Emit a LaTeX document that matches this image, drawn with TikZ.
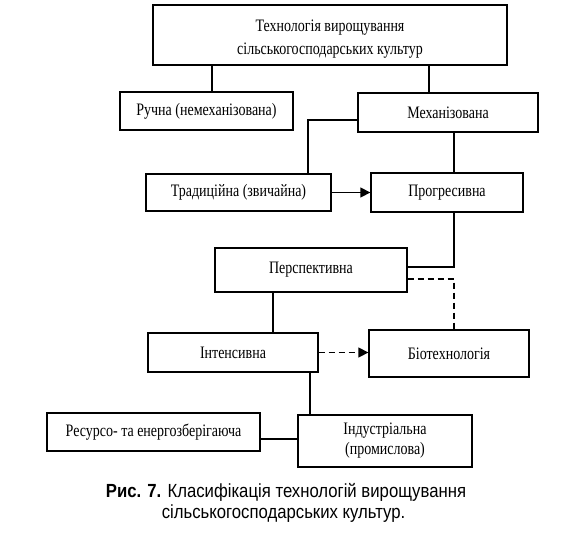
\documentclass[tikz,border=0pt]{standalone}
\usepackage{fontspec}
\setmainfont{Liberation Serif}[FakeStretch=0.8]
\newfontfamily\capfont{Liberation Sans}[FakeStretch=0.88]
\usetikzlibrary{arrows.meta}
\begin{document}
\begin{tikzpicture}[x=1pt,y=-1pt,
  box/.style={draw, line width=1.3pt, inner sep=0pt, align=center, font=\fontsize{17.5}{21}\selectfont},
  link/.style={line width=1.3pt},
  dlink/.style={line width=1.3pt, dash pattern=on 6pt off 4pt},
  tip/.style={-{Triangle[length=10pt,width=10pt]}},
  captext/.style={font=\capfont\fontsize{19}{21}\selectfont, anchor=base, inner sep=0pt}]
\useasboundingbox (0,0) rectangle (569,541);
\node[box,minimum width=354pt,minimum height=60pt,font=\fontsize{17.5}{23}\selectfont] (top) at (330,35) {\rule{0pt}{20pt}Технологія вирощування\\сільськогосподарських культур};
\node[box,minimum width=173pt,minimum height=38pt] (ruchna) at (206.5,111) {Ручна (немеханізована)};
\node[box,minimum width=180pt,minimum height=39pt] (mech) at (448,112.5) {Механізована};
\node[box,minimum width=185pt,minimum height=37pt] (trad) at (238.5,192.5) {Традиційна (звичайна)};
\node[box,minimum width=152pt,minimum height=39pt] (prog) at (447,192.5) {Прогресивна};
\node[box,minimum width=192pt,minimum height=44pt] (persp) at (311,270) {Перспективна};
\node[box,minimum width=170pt,minimum height=39pt] (intens) at (233,352.5) {Інтенсивна};
\node[box,minimum width=160pt,minimum height=47pt] (bio) at (449,353.5) {Біотехнологія};
\node[box,minimum width=213pt,minimum height=38pt] (res) at (153.5,432) {Ресурсо- та енергозберігаюча};
\node[box,minimum width=174pt,minimum height=52pt,font=\fontsize{17.5}{20}\selectfont] (ind) at (385,441) {Індустріальна\\(промислова)};

\draw[link] ([xshift=5.5pt]ruchna.north) -- ([xshift=5.5pt]ruchna.north |- top.south);
\draw[link] ([xshift=-19pt]mech.north) -- ([xshift=-19pt]mech.north |- top.south);
\draw[link] ([yshift=-7.5pt]mech.west) -| ([xshift=69.5pt]trad.north);
\draw[link] ([xshift=6pt]mech.south) -- ([xshift=6pt]mech.south |- prog.north);
\draw[link,tip] (trad.east) -- (trad.east -| prog.west);
\draw[link] ([xshift=7pt]prog.south) |- ([yshift=3pt]persp.east);
\draw[dlink] ([yshift=-9pt]persp.east) -| ([xshift=5pt]bio.north);
\draw[link] ([xshift=-38pt]persp.south) -- ([xshift=-38pt]persp.south |- intens.north);
\draw[dlink,tip] (intens.east) -- (intens.east -| bio.west);
\draw[link] ([xshift=77pt]intens.south) -- ([xshift=77pt]intens.south |- ind.north);
\draw[link] ([yshift=-7pt]res.east) -- ([yshift=-7pt]res.east -| ind.west);

\node[captext] (cap1) at (286,497) {\textbf{Рис. 7.} Класифікація технологій вирощування};
\node[captext] (cap2) at (283.5,518) {сільськогосподарських культур.};
\end{tikzpicture}
\end{document}
